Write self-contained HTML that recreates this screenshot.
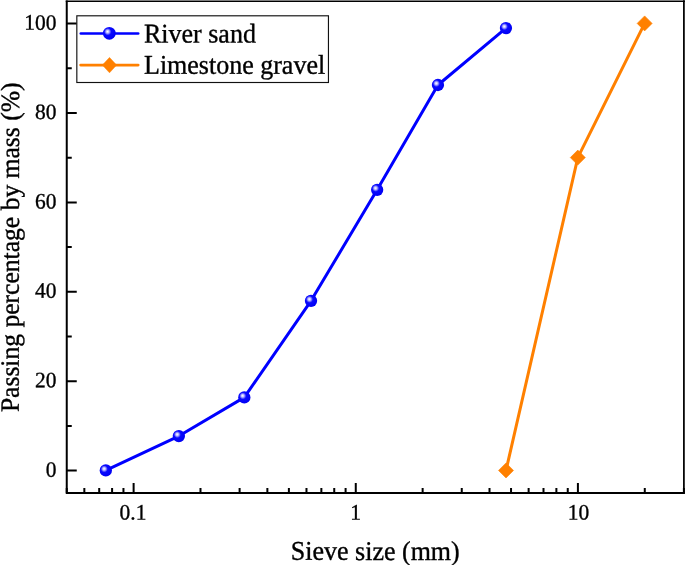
<!DOCTYPE html>
<html><head><meta charset="utf-8"><style>
html,body{margin:0;padding:0;background:#fff;width:685px;height:565px;overflow:hidden}
svg{display:block;will-change:transform}
text{font-family:"Liberation Serif",serif;fill:#000;stroke:#000;stroke-width:0.35px}
</style></head><body>
<svg width="685" height="565" viewBox="0 0 685 565">
<defs>
<radialGradient id="ball" cx="0.4" cy="0.4" r="0.62" fx="0.36" fy="0.36">
<stop offset="0" stop-color="#ffffff"/>
<stop offset="0.18" stop-color="#c0c0ff"/>
<stop offset="0.45" stop-color="#0a0aff"/>
<stop offset="1" stop-color="#0000f2"/>
</radialGradient>
</defs>
<rect width="685" height="565" fill="#fff"/>

<path d="M66.75 470.60H76.75 M66.75 381.20H76.75 M66.75 291.80H76.75 M66.75 202.40H76.75 M66.75 113.00H76.75 M66.75 23.60H76.75 M66.75 425.90H71.75 M66.75 336.50H71.75 M66.75 247.10H71.75 M66.75 157.70H71.75 M66.75 68.30H71.75 M66.75 492.95V487.95 M84.34 492.95V487.95 M99.21 492.95V487.95 M112.09 492.95V487.95 M123.46 492.95V487.95 M133.62 492.95V482.95 M200.49 492.95V487.95 M239.61 492.95V487.95 M267.37 492.95V487.95 M288.89 492.95V487.95 M306.48 492.95V487.95 M321.36 492.95V487.95 M334.24 492.95V487.95 M345.60 492.95V487.95 M355.77 492.95V482.95 M422.64 492.95V487.95 M461.76 492.95V487.95 M489.51 492.95V487.95 M511.04 492.95V487.95 M528.63 492.95V487.95 M543.50 492.95V487.95 M556.38 492.95V487.95 M567.75 492.95V487.95 M577.91 492.95V482.95 M644.78 492.95V487.95 M683.90 492.95V487.95" stroke="#000" stroke-width="2" fill="none"/>
<path d="M66.75 492.95H684.8" stroke="#000" stroke-width="2" fill="none"/>
<path d="M66.75 0.44999999999999996V493.95" stroke="#000" stroke-width="2" fill="none"/>
<path d="M65.75 1.25H684.9" stroke="#000" stroke-width="1.6" fill="none"/>
<path d="M683.9 0.25V493.95" stroke="#000" stroke-width="1.75" fill="none"/>
<text transform="translate(56.50 476.65) rotate(0.05) scale(0.975 1.0)" font-size="22" text-anchor="end">0</text>
<text transform="translate(56.50 387.25) rotate(0.05) scale(0.975 1.0)" font-size="22" text-anchor="end">20</text>
<text transform="translate(56.50 297.85) rotate(0.05) scale(0.975 1.0)" font-size="22" text-anchor="end">40</text>
<text transform="translate(56.50 208.45) rotate(0.05) scale(0.975 1.0)" font-size="22" text-anchor="end">60</text>
<text transform="translate(56.50 119.05) rotate(0.05) scale(0.975 1.0)" font-size="22" text-anchor="end">80</text>
<text transform="translate(56.50 29.65) rotate(0.05) scale(0.975 1.0)" font-size="22" text-anchor="end">100</text>
<text transform="translate(133.00 519.55) rotate(0.05) scale(0.975 1.0)" font-size="22" text-anchor="middle">0.1</text>
<text transform="translate(355.55 519.55) rotate(0.05) scale(0.975 1.0)" font-size="22" text-anchor="middle">1</text>
<text transform="translate(578.50 519.55) rotate(0.05) scale(0.975 1.0)" font-size="22" text-anchor="middle">10</text>
<text transform="translate(375.30 559.90) rotate(0.05) scale(1.0 1.04)" font-size="26" text-anchor="middle">Sieve size (mm)</text>
<text transform="translate(18.9 247.3) rotate(-89.95) scale(1 1.03)" font-size="25.6" text-anchor="middle">Passing percentage by mass (%)</text>
<polyline points="506.00,470.45 577.80,157.60 644.65,23.40" fill="none" stroke="#ff8000" stroke-width="3" stroke-linejoin="round"/>
<path d="M506.00 462.95L513.50 470.45L506.00 477.95L498.50 470.45Z" fill="#ff8000" stroke="#ff8000" stroke-width="0.6" stroke-linejoin="round"/>
<path d="M577.80 150.10L585.30 157.60L577.80 165.10L570.30 157.60Z" fill="#ff8000" stroke="#ff8000" stroke-width="0.6" stroke-linejoin="round"/>
<path d="M644.65 15.90L652.15 23.40L644.65 30.90L637.15 23.40Z" fill="#ff8000" stroke="#ff8000" stroke-width="0.6" stroke-linejoin="round"/>
<polyline points="105.80,470.45 178.85,436.05 244.30,397.40 311.00,300.85 377.15,189.80 437.95,85.00 505.95,28.10" fill="none" stroke="#0000ff" stroke-width="3" stroke-linejoin="round"/>
<circle cx="105.80" cy="470.45" r="6.15" fill="url(#ball)"/>
<circle cx="178.85" cy="436.05" r="6.15" fill="url(#ball)"/>
<circle cx="244.30" cy="397.40" r="6.15" fill="url(#ball)"/>
<circle cx="311.00" cy="300.85" r="6.15" fill="url(#ball)"/>
<circle cx="377.15" cy="189.80" r="6.15" fill="url(#ball)"/>
<circle cx="437.95" cy="85.00" r="6.15" fill="url(#ball)"/>
<circle cx="505.95" cy="28.10" r="6.15" fill="url(#ball)"/>
<rect x="76.83" y="15.8" width="251.62" height="66.7" fill="#fff" stroke="#111" stroke-width="1.15"/>
<path d="M80.8 33.5H138.2" stroke="#0000ff" stroke-width="2.6" stroke-linecap="round"/>
<circle cx="109.3" cy="33.3" r="6.4" fill="url(#ball)"/>
<path d="M80.6 65.1H138.2" stroke="#ff8000" stroke-width="2.7" stroke-linecap="round"/>
<path d="M109.5 57.4L116.6 65.1L109.5 72.8L102.4 65.1Z" fill="#ff8000" stroke="#ff8000" stroke-width="0.5" stroke-linejoin="round"/>
<text transform="translate(144.00 42.50) rotate(0.05) scale(1.0 1.04)" font-size="26">River sand</text>
<text transform="translate(144.00 73.70) rotate(0.05) scale(1.0 1.04)" font-size="26">Limestone gravel</text>
</svg></body></html>
